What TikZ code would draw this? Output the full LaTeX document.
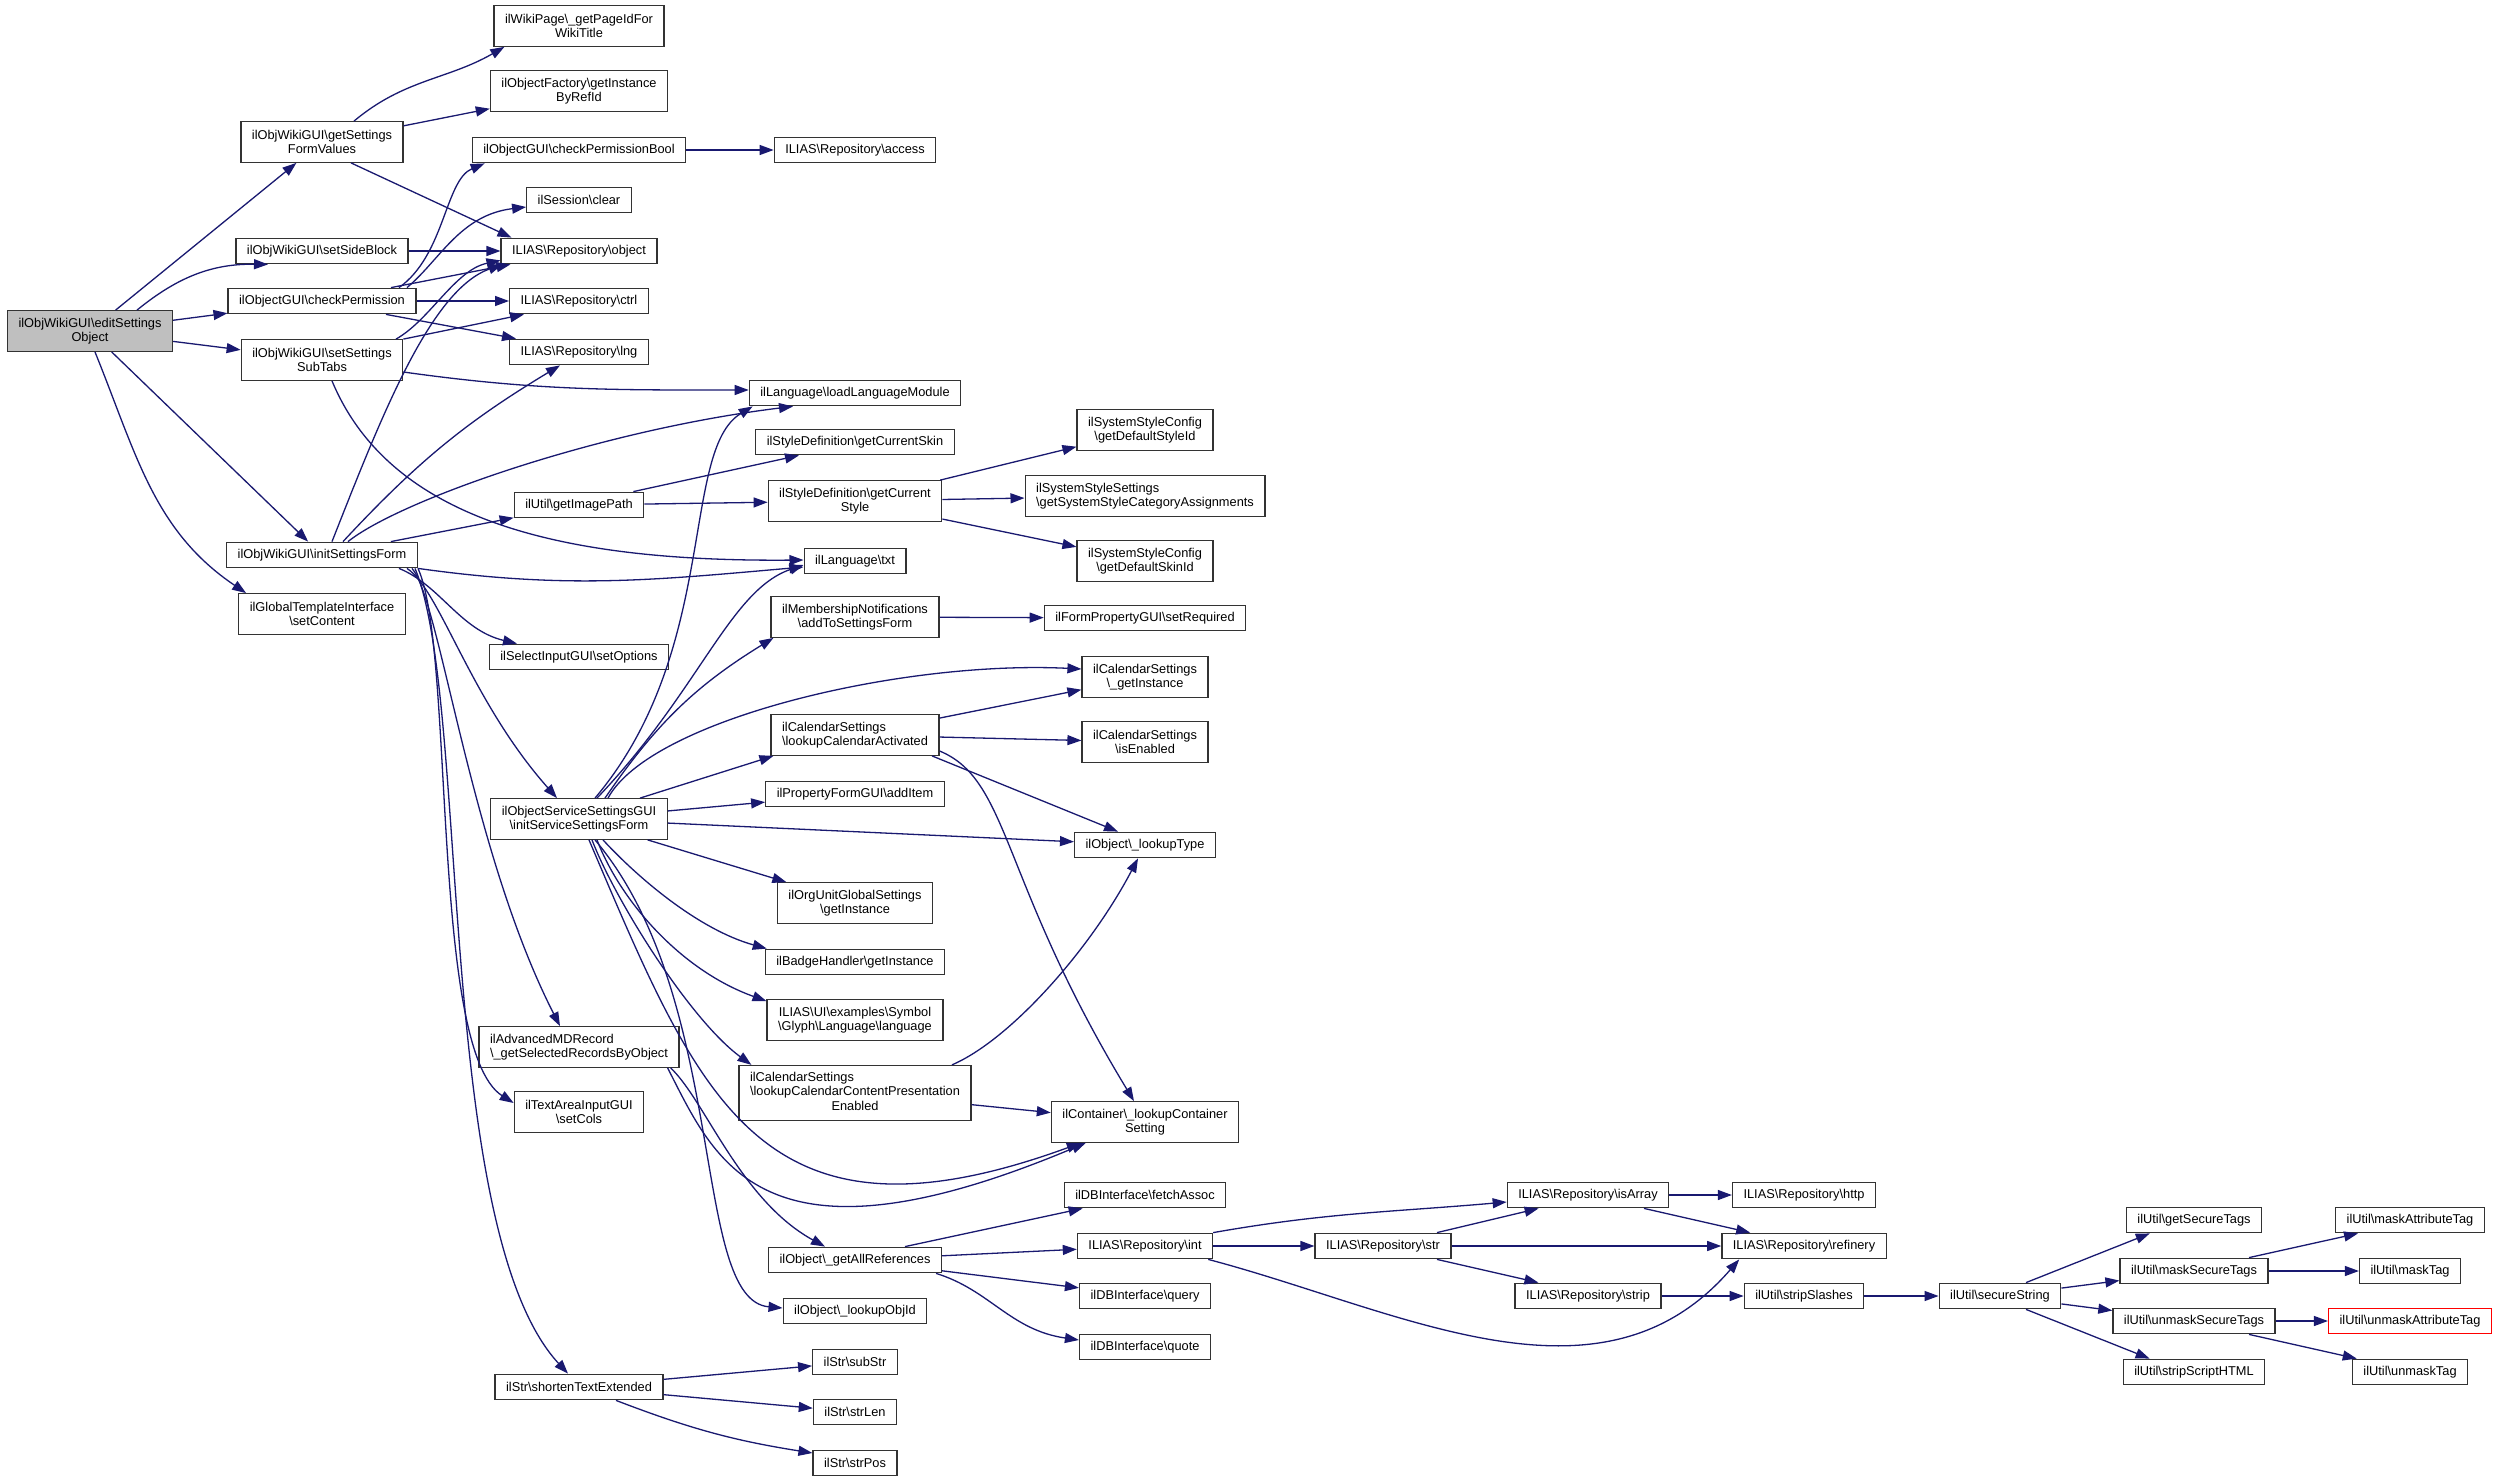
\documentclass[tikz,border=0pt]{standalone}
\usepackage{fontspec}
\setmainfont{Liberation Sans}
\usetikzlibrary{arrows.meta}
\definecolor{callblue}{HTML}{191970}
\definecolor{rootgrey}{HTML}{BFBFBF}
\newcommand{\bsl}{\textbackslash}
\tikzset{
  fn/.style={draw=black!80, line width=1.3pt, fill=white, font=\fontsize{12.8}{14.5}\selectfont,
    inner xsep=11pt, inner ysep=2pt, minimum height=25.5pt},
  fntwo/.style={fn, minimum height=40.5pt, align=center},
  fnleft/.style={fn, minimum height=40.5pt, align=left},
  fnroot/.style={fntwo, fill=rootgrey},
  fnred/.style={fn, draw=red},
  call/.style={draw=callblue, line width=1.3pt, -{Triangle[length=14pt,width=10pt]}},
}
\begin{document}
\begin{tikzpicture}[x=1pt,y=1pt]
    \fill[white] (0,0) rectangle (2501,-1482);
    \useasboundingbox (0,0) rectangle (2501,-1482);

    % Draw nodes
    \node[fnroot] (edit) at (90,-331) {ilObjWikiGUI\bsl editSettings\\Object};

    \node[fntwo] (getForm) at (322,-142) {ilObjWikiGUI\bsl getSettings\\FormValues};
    \node[fn] (sideBlock) at (322,-251) {ilObjWikiGUI\bsl setSideBlock};
    \node[fn] (checkPerm) at (322,-301) {ilObjectGUI\bsl checkPermission};
    \node[fntwo] (subTabs) at (322,-360) {ilObjWikiGUI\bsl setSettings\\SubTabs};
    \node[fn] (initForm) at (322,-555) {ilObjWikiGUI\bsl initSettingsForm};
    \node[fntwo] (setContent) at (322,-614) {ilGlobalTemplateInterface\\\bsl setContent};

    \node[fntwo] (wikiTitle) at (579,-26) {ilWikiPage\bsl\_getPageIdFor\\WikiTitle};
    \node[fntwo] (factory) at (579,-91) {ilObjectFactory\bsl getInstance\\ByRefId};
    \node[fn] (permBool) at (579,-150) {ilObjectGUI\bsl checkPermissionBool};
    \node[fn] (sessClear) at (579,-200) {ilSession\bsl clear};
    \node[fn] (repoObject) at (579,-251) {ILIAS\bsl Repository\bsl object};
    \node[fn] (repoCtrl) at (579,-301) {ILIAS\bsl Repository\bsl ctrl};
    \node[fn] (repoLng) at (579,-352) {ILIAS\bsl Repository\bsl lng};
    \node[fn] (imagePath) at (579,-505) {ilUtil\bsl getImagePath};
    \node[fn] (setOptions) at (579,-657) {ilSelectInputGUI\bsl setOptions};
    \node[fntwo] (serviceForm) at (579,-819) {ilObjectServiceSettingsGUI\\\bsl initServiceSettingsForm};
    \node[fnleft] (advRecords) at (579,-1047) {ilAdvancedMDRecord\\\bsl\_getSelectedRecordsByObject};
    \node[fntwo] (setCols) at (579,-1112) {ilTextAreaInputGUI\\\bsl setCols};
    \node[fn] (shortenText) at (579,-1387) {ilStr\bsl shortenTextExtended};

    \node[fn] (repoAccess) at (855,-150) {ILIAS\bsl Repository\bsl access};
    \node[fn] (loadModule) at (855,-393) {ilLanguage\bsl loadLanguageModule};
    \node[fn] (curSkin) at (855,-442) {ilStyleDefinition\bsl getCurrentSkin};
    \node[fntwo] (curStyle) at (855,-501) {ilStyleDefinition\bsl getCurrent\\Style};
    \node[fn] (langTxt) at (855,-561) {ilLanguage\bsl txt};
    \node[fntwo] (addToForm) at (855,-617) {ilMembershipNotifications\\\bsl addToSettingsForm};
    \node[fnleft] (calActivated) at (855,-735) {ilCalendarSettings\\\bsl lookupCalendarActivated};
    \node[fn] (addItem) at (855,-794) {ilPropertyFormGUI\bsl addItem};
    \node[fntwo] (orguInst) at (855,-903) {ilOrgUnitGlobalSettings\\\bsl getInstance};
    \node[fn] (badgeInst) at (855,-962) {ilBadgeHandler\bsl getInstance};
    \node[fntwo] (glyphLang) at (855,-1020) {ILIAS\bsl UI\bsl examples\bsl Symbol\\\bsl Glyph\bsl Language\bsl language};
    \node[fn, minimum height=55pt] (calContent) at (855,-1093) {\begin{tabular}{@{}l@{}}ilCalendarSettings\\ \bsl lookupCalendarContentPresentation\\ \multicolumn{1}{@{}c@{}}{Enabled}\end{tabular}};
    \node[fn] (allRefs) at (855,-1260) {ilObject\bsl\_getAllReferences};
    \node[fn] (lookupObjId) at (855,-1311) {ilObject\bsl\_lookupObjId};
    \node[fn] (subStr) at (855,-1362) {ilStr\bsl subStr};
    \node[fn] (strLen) at (855,-1412) {ilStr\bsl strLen};
    \node[fn] (strPos) at (855,-1463) {ilStr\bsl strPos};

    \node[fntwo] (defStyle) at (1145,-430) {ilSystemStyleConfig\\\bsl getDefaultStyleId};
    \node[fnleft] (styleAssign) at (1145,-496) {ilSystemStyleSettings\\\bsl getSystemStyleCategoryAssignments};
    \node[fntwo] (defSkin) at (1145,-561) {ilSystemStyleConfig\\\bsl getDefaultSkinId};
    \node[fn] (setRequired) at (1145,-618) {ilFormPropertyGUI\bsl setRequired};
    \node[fntwo] (calInst) at (1145,-677) {ilCalendarSettings\\\bsl\_getInstance};
    \node[fntwo] (calEnabled) at (1145,-742) {ilCalendarSettings\\\bsl isEnabled};
    \node[fn] (lookupType) at (1145,-845) {ilObject\bsl\_lookupType};
    \node[fntwo] (contSetting) at (1145,-1122) {ilContainer\bsl\_lookupContainer\\Setting};
    \node[fn] (fetchAssoc) at (1145,-1195) {ilDBInterface\bsl fetchAssoc};
    \node[fn] (repoInt) at (1145,-1246) {ILIAS\bsl Repository\bsl int};
    \node[fn] (dbQuery) at (1145,-1296) {ilDBInterface\bsl query};
    \node[fn] (dbQuote) at (1145,-1347) {ilDBInterface\bsl quote};

    \node[fn] (repoStr) at (1383,-1246) {ILIAS\bsl Repository\bsl str};
    \node[fn] (isArray) at (1588,-1195) {ILIAS\bsl Repository\bsl isArray};
    \node[fn] (repoStrip) at (1588,-1296) {ILIAS\bsl Repository\bsl strip};
    \node[fn] (repoHttp) at (1804,-1195) {ILIAS\bsl Repository\bsl http};
    \node[fn] (refinery) at (1804,-1246) {ILIAS\bsl Repository\bsl refinery};
    \node[fn] (stripSlashes) at (1804,-1296) {ilUtil\bsl stripSlashes};
    \node[fn] (secureString) at (2000,-1296) {ilUtil\bsl secureString};
    \node[fn] (getTags) at (2194,-1220) {ilUtil\bsl getSecureTags};
    \node[fn] (maskTags) at (2194,-1271) {ilUtil\bsl maskSecureTags};
    \node[fn] (unmaskTags) at (2194,-1321) {ilUtil\bsl unmaskSecureTags};
    \node[fn] (stripHtml) at (2194,-1372) {ilUtil\bsl stripScriptHTML};
    \node[fn] (maskAttr) at (2410,-1220) {ilUtil\bsl maskAttributeTag};
    \node[fn] (maskTag) at (2410,-1271) {ilUtil\bsl maskTag};
    \node[fnred] (unmaskAttr) at (2410,-1321) {ilUtil\bsl unmaskAttributeTag};
    \node[fn] (unmaskTag) at (2410,-1372) {ilUtil\bsl unmaskTag};

    % Draw calls from editSettingsObject
    \draw[call] (edit) -- (getForm);
    \draw[call] ([xshift=47pt]edit.north) to[bend left=20] ([xshift=-54pt]sideBlock.south);
    \draw[call] (edit) -- (checkPerm);
    \draw[call] (edit) -- (subTabs);
    \draw[call] (edit) -- (initForm);
    \draw[call] ([xshift=5pt]edit.south) to[out=-68,in=146] ([xshift=8pt]setContent.north west);

    % Second column
    \draw[call] ([xshift=32pt]getForm.north) to[out=40,in=-150] ([xshift=11pt]wikiTitle.south west);
    \draw[call] (getForm) -- (factory);
    \draw[call] ([xshift=29pt]getForm.south) -- ([xshift=11pt]repoObject.north west);
    \draw[call] (sideBlock) -- (repoObject);
    \draw[call] ([xshift=77pt]checkPerm.north) .. controls (445,-255) and (445,-180) .. ([xshift=13pt]permBool.south west);
    \draw[call] ([xshift=85pt]checkPerm.north) .. controls (440,-260) and (460,-215) .. ([yshift=-7pt]sessClear.west);
    \draw[call] ([xshift=69pt]checkPerm.north) -- ([xshift=10pt]repoObject.south west);
    \draw[call] (checkPerm) -- (repoCtrl);
    \draw[call] ([xshift=64pt]checkPerm.south) -- ([xshift=7pt]repoLng.north west);
    \draw[call] ([xshift=74pt]subTabs.north) .. controls (430,-320) and (455,-270) .. ([yshift=4pt]repoObject.south west);
    \draw[call] (subTabs.north east) -- ([xshift=15pt]repoCtrl.south west);
    \draw[call] ([yshift=-12pt]subTabs.east) to[out=-8,in=180] ([yshift=3pt]loadModule.west);
    \draw[call] ([xshift=10pt]subTabs.south) .. controls (390,-520) and (560,-562) .. ([yshift=1pt]langTxt.west);
    \draw[call] ([xshift=10pt]initForm.north) .. controls (380,-420) and (430,-290) .. ([xshift=2pt]repoObject.south west);
    \draw[call] ([xshift=21pt]initForm.north) to[bend left=8] ([xshift=-19pt]repoLng.south);
    \draw[call] ([xshift=26pt]initForm.north) .. controls (400,-500) and (600,-430) .. ([xshift=-62pt]loadModule.south);
    \draw[call] (initForm) -- (imagePath);
    \draw[call] (initForm.south east) to[out=-8,in=-175] ([yshift=-6pt]langTxt.west);
    \draw[call] ([xshift=77pt]initForm.south) .. controls (440,-585) and (460,-630) .. ([xshift=-62pt]setOptions.north);
    \draw[call] ([xshift=85pt]initForm.south) .. controls (440,-590) and (470,-700) .. ([xshift=-22pt]serviceForm.north);
    \draw[call] ([xshift=90pt]initForm.south) .. controls (440,-600) and (470,-850) .. ([xshift=-19pt]advRecords.north);
    \draw[call] ([xshift=96pt]initForm.south) .. controls (455,-650) and (430,-1050) .. ([yshift=9pt]setCols.west);
    \draw[call] ([xshift=93pt]initForm.south) .. controls (470,-700) and (435,-1230) .. ([xshift=-11pt]shortenText.north);

    % Third column
    \draw[call] (permBool) -- (repoAccess);
    \draw[call] ([xshift=-11pt]imagePath.north east) -- ([xshift=-56pt]curSkin.south);
    \draw[call] (imagePath) -- (curStyle);
    \draw[call] ([xshift=16pt]serviceForm.north) .. controls (720,-650) and (680,-450) .. ([xshift=4pt]loadModule.south west);
    \draw[call] ([xshift=18pt]serviceForm.north) .. controls (700,-690) and (730,-590) .. ([yshift=-4pt]langTxt.west);
    \draw[call] ([xshift=26pt]serviceForm.north) to[bend left=12] ([xshift=3pt]addToForm.south west);
    \draw[call] ([xshift=29pt]serviceForm.north) .. controls (650,-720) and (900,-660) .. ([yshift=8pt]calInst.west);
    \draw[call] ([xshift=61pt]serviceForm.north) -- ([xshift=3pt]calActivated.south west);
    \draw[call] (serviceForm) -- (addItem);
    \draw[call] (serviceForm) -- (lookupType);
    \draw[call] (serviceForm) -- (orguInst);
    \draw[call] ([xshift=24pt]serviceForm.south) .. controls (640,-880) and (700,-930) .. ([xshift=2pt]badgeInst.north west);
    \draw[call] ([xshift=18pt]serviceForm.south) .. controls (620,-900) and (680,-970) .. ([yshift=-2pt]glyphLang.north west);
    \draw[call] ([xshift=13pt]serviceForm.south) .. controls (615,-900) and (690,-1020) .. ([xshift=13pt]calContent.north west);
    \draw[call] ([xshift=10pt]serviceForm.south) .. controls (700,-1100) and (760,-1260) .. ([xshift=30pt]contSetting.south west);
    \draw[call] ([xshift=16pt]serviceForm.south) .. controls (730,-1000) and (690,-1300) .. ([yshift=3pt]lookupObjId.west);
    \draw[call] ([xshift=-12pt]advRecords.south east) .. controls (715,-1160) and (760,-1280) .. ([xshift=35pt]contSetting.south west);
    \draw[call] ([xshift=-9pt]advRecords.south east) .. controls (705,-1100) and (740,-1200) .. ([xshift=-30pt]allRefs.north);
    \draw[call] (shortenText) -- (subStr);
    \draw[call] (shortenText) -- (strLen);
    \draw[call] ([xshift=37pt]shortenText.south) to[bend right=6] ([yshift=10pt]strPos.west);

    % Fourth column
    \draw[call] (curStyle) -- (defStyle);
    \draw[call] (curStyle) -- (styleAssign);
    \draw[call] (curStyle) -- (defSkin);
    \draw[call] (addToForm) -- (setRequired);
    \draw[call] (calActivated) -- (calInst);
    \draw[call] (calActivated) -- (calEnabled);
    \draw[call] ([xshift=77pt]calActivated.south) -- ([xshift=-27pt]lookupType.north);
    \draw[call] ([yshift=-16pt]calActivated.east) .. controls (1010,-780) and (1000,-880) .. ([xshift=-11pt]contSetting.north);
    \draw[call] ([xshift=97pt]calContent.north) .. controls (1010,-1040) and (1090,-950) .. ([xshift=-7pt]lookupType.south);
    \draw[call] (calContent) -- (contSetting);
    \draw[call] ([xshift=50pt]allRefs.north) -- ([xshift=19pt]fetchAssoc.south west);
    \draw[call] (allRefs) -- (repoInt);
    \draw[call] (allRefs) -- (dbQuery);
    \draw[call] ([xshift=-6pt]allRefs.south east) .. controls (990,-1290) and (1010,-1330) .. ([yshift=7pt]dbQuote.west);

    % Repository and ilUtil chain
    \draw[call] (repoInt.north east) to[out=10,in=-175] ([yshift=-7pt]isArray.west);
    \draw[call] (repoInt) -- (repoStr);
    \draw[call] ([xshift=-5pt]repoInt.south east) .. controls (1400,-1310) and (1600,-1420) .. ([xshift=18pt]refinery.south west);
    \draw[call] ([xshift=54pt]repoStr.north) -- ([xshift=32pt]isArray.south west);
    \draw[call] (repoStr) -- (refinery);
    \draw[call] ([xshift=54pt]repoStr.south) -- ([xshift=24pt]repoStrip.north west);
    \draw[call] (isArray) -- (repoHttp);
    \draw[call] ([xshift=56pt]isArray.south) -- ([xshift=29pt]refinery.north west);
    \draw[call] (repoStrip) -- (stripSlashes);
    \draw[call] (stripSlashes) -- (secureString);
    \draw[call] ([xshift=26pt]secureString.north) -- ([xshift=24pt]getTags.south west);
    \draw[call] (secureString) -- (maskTags);
    \draw[call] (secureString) -- (unmaskTags);
    \draw[call] ([xshift=26pt]secureString.south) -- ([xshift=27pt]stripHtml.north west);
    \draw[call] ([xshift=55pt]maskTags.north) -- ([xshift=23pt]maskAttr.south west);
    \draw[call] (maskTags) -- (maskTag);
    \draw[call] (unmaskTags) -- (unmaskAttr);
    \draw[call] ([xshift=55pt]unmaskTags.south) -- ([xshift=5pt]unmaskTag.north west);
\end{tikzpicture}
\end{document}
